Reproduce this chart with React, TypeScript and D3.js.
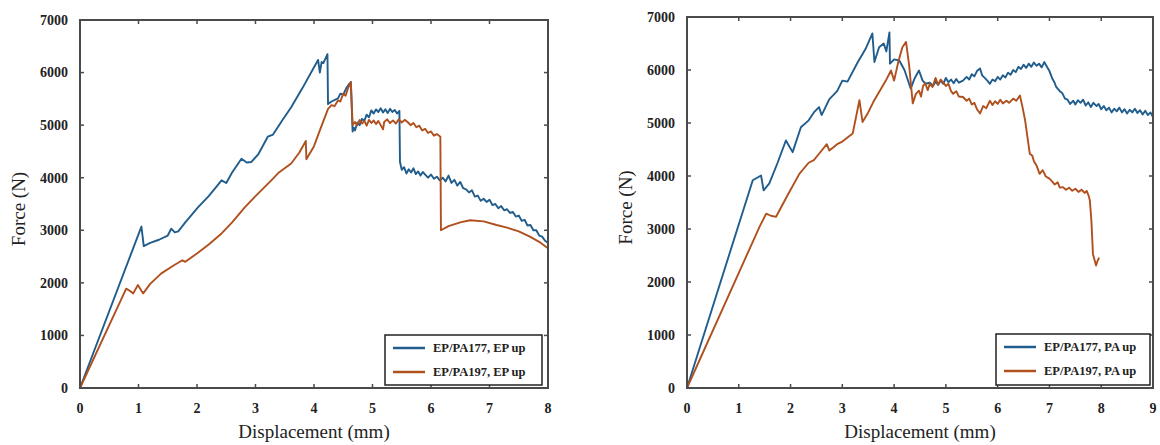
import React from "react";
import * as d3 from "d3";

// ---------- Data ----------
const yTicks = [0, 1000, 2000, 3000, 4000, 5000, 6000, 7000];
const xTicksLeft = [0, 1, 2, 3, 4, 5, 6, 7, 8];
const xTicksRight = [0, 1, 2, 3, 4, 5, 6, 7, 8, 9];

const seriesNamesLeft = ["EP/PA177, EP up", "EP/PA197, EP up"];
const seriesNamesRight = ["EP/PA177, PA up", "EP/PA197, PA up"];

// left panel, blue (EP/PA177, EP up): [displacement mm, force N]
const leftBlue: [number, number][] = [
  [0, 0], [1.05, 3070], [1.09, 2700], [1.2, 2760], [1.35, 2820], [1.5, 2900], [1.56, 3030],
  [1.62, 2960], [1.68, 2980], [1.8, 3150], [2.02, 3440], [2.2, 3650], [2.42, 3950], [2.5, 3900],
  [2.6, 4100], [2.76, 4360], [2.85, 4290], [2.93, 4300], [3.05, 4450], [3.21, 4780], [3.3, 4820],
  [3.45, 5080], [3.61, 5340], [3.8, 5700], [4.0, 6100], [4.07, 6240], [4.1, 6000], [4.13, 6200],
  [4.16, 6180], [4.23, 6350], [4.24, 5400], [4.3, 5450], [4.41, 5510], [4.45, 5600], [4.5, 5580],
  [4.55, 5700], [4.6, 5780], [4.63, 5820], [4.66, 4880], [4.68, 4950], [4.7, 4900], [4.74, 5050],
  [4.78, 5000], [4.82, 5120], [4.86, 5080], [4.9, 5200], [4.94, 5150], [4.98, 5280], [5.02, 5220],
  [5.06, 5300], [5.1, 5250], [5.14, 5320], [5.18, 5240], [5.22, 5300], [5.26, 5230], [5.3, 5310],
  [5.34, 5250], [5.38, 5290], [5.42, 5220], [5.46, 5270], [5.47, 4300], [5.5, 4150], [5.54, 4200],
  [5.58, 4080], [5.62, 4160], [5.66, 4100], [5.7, 4180], [5.74, 4070], [5.78, 4120], [5.82, 4040],
  [5.86, 4110], [5.9, 4060], [5.95, 4000], [6.0, 4060], [6.05, 3980], [6.1, 4020], [6.15, 3950],
  [6.2, 4000], [6.25, 3930], [6.3, 4040], [6.35, 3900], [6.4, 3960], [6.45, 3850], [6.5, 3920],
  [6.55, 3800], [6.6, 3780], [6.65, 3720], [6.7, 3760], [6.75, 3640], [6.8, 3660], [6.85, 3560],
  [6.9, 3600], [6.95, 3540], [7.0, 3580], [7.05, 3480], [7.1, 3500], [7.15, 3420], [7.2, 3460],
  [7.25, 3380], [7.3, 3400], [7.35, 3330], [7.4, 3350], [7.45, 3260], [7.5, 3280], [7.55, 3180],
  [7.6, 3200], [7.65, 3090], [7.7, 3100], [7.75, 3000], [7.8, 3000], [7.85, 2900], [7.9, 2880],
  [7.95, 2800], [8.0, 2760],
];

// left panel, orange (EP/PA197, EP up)
const leftOrange: [number, number][] = [
  [0, 0], [0.79, 1890], [0.85, 1850], [0.91, 1800], [0.99, 1960], [1.05, 1850], [1.08, 1800],
  [1.2, 1980], [1.39, 2180], [1.6, 2330], [1.75, 2430], [1.8, 2400], [2.0, 2560], [2.2, 2730],
  [2.42, 2940], [2.6, 3150], [2.82, 3440], [3.0, 3650], [3.27, 3950], [3.4, 4100], [3.61, 4270],
  [3.75, 4480], [3.86, 4700], [3.87, 4350], [4.0, 4600], [4.1, 4900], [4.24, 5310], [4.3, 5380],
  [4.35, 5360], [4.41, 5470], [4.45, 5450], [4.5, 5600], [4.54, 5560], [4.58, 5700], [4.63, 5820],
  [4.66, 5000], [4.7, 5060], [4.74, 5000], [4.78, 5100], [4.82, 5030], [4.86, 5080], [4.9, 4990],
  [4.94, 5100], [4.98, 5040], [5.02, 5090], [5.06, 5020], [5.1, 5080], [5.14, 5000], [5.18, 4920],
  [5.2, 5060], [5.25, 5110], [5.3, 5040], [5.35, 5090], [5.4, 5030], [5.45, 5110], [5.5, 5050],
  [5.55, 5100], [5.6, 5060], [5.65, 5000], [5.7, 5040], [5.75, 4960], [5.8, 4990], [5.85, 4900],
  [5.9, 4930], [5.95, 4850], [6.0, 4880], [6.05, 4800], [6.1, 4830], [6.16, 4780], [6.17, 3000],
  [6.3, 3080], [6.5, 3150], [6.67, 3190], [6.9, 3170], [7.12, 3100], [7.3, 3050], [7.5, 2980],
  [7.69, 2880], [7.85, 2780], [8.0, 2660],
];

// right panel, blue (EP/PA177, PA up)
const rightBlue: [number, number][] = [
  [0, 0], [1.27, 3920], [1.43, 4010], [1.48, 3730], [1.59, 3860], [1.75, 4250], [1.91, 4670],
  [2.04, 4450], [2.2, 4920], [2.35, 5050], [2.45, 5200], [2.55, 5300], [2.6, 5150], [2.75, 5450],
  [2.9, 5600], [3.0, 5800], [3.1, 5780], [3.3, 6150], [3.45, 6400], [3.58, 6690], [3.62, 6150],
  [3.71, 6430], [3.8, 6500], [3.85, 6350], [3.91, 6710], [3.92, 6120], [4.0, 6200], [4.1, 6180],
  [4.2, 6000], [4.32, 5650], [4.4, 5850], [4.48, 5990], [4.55, 5800], [4.61, 5740], [4.69, 5760],
  [4.75, 5700], [4.8, 5780], [4.85, 5720], [4.9, 5800], [4.95, 5740], [5.0, 5850], [5.05, 5770],
  [5.1, 5820], [5.15, 5750], [5.2, 5830], [5.25, 5760], [5.33, 5800], [5.4, 5870], [5.45, 5820],
  [5.5, 5920], [5.55, 5880], [5.6, 5980], [5.66, 6030], [5.7, 5900], [5.75, 5850], [5.8, 5800],
  [5.85, 5740], [5.9, 5820], [5.95, 5790], [6.0, 5870], [6.05, 5820], [6.1, 5900], [6.15, 5860],
  [6.2, 5950], [6.25, 5910], [6.3, 6000], [6.35, 5960], [6.4, 6060], [6.45, 6020], [6.5, 6100],
  [6.55, 6040], [6.6, 6120], [6.65, 6060], [6.7, 6140], [6.75, 6080], [6.8, 6120], [6.85, 6050],
  [6.9, 6150], [6.94, 6080], [7.0, 5980], [7.05, 5850], [7.1, 5760], [7.13, 5680], [7.2, 5600],
  [7.25, 5560], [7.3, 5460], [7.35, 5440], [7.4, 5360], [7.46, 5420], [7.5, 5350], [7.55, 5430],
  [7.6, 5380], [7.65, 5440], [7.7, 5330], [7.75, 5390], [7.8, 5300], [7.85, 5380], [7.91, 5320],
  [7.95, 5360], [8.0, 5260], [8.05, 5320], [8.1, 5240], [8.15, 5290], [8.2, 5200], [8.25, 5270],
  [8.3, 5220], [8.35, 5290], [8.4, 5200], [8.45, 5260], [8.5, 5180], [8.55, 5250], [8.6, 5200],
  [8.65, 5270], [8.7, 5190], [8.75, 5240], [8.8, 5160], [8.85, 5230], [8.9, 5150], [8.95, 5200],
  [9.0, 5110],
];

// right panel, orange (EP/PA197, PA up)
const rightOrange: [number, number][] = [
  [0, 0], [1.4, 3040], [1.53, 3290], [1.62, 3250], [1.72, 3230], [1.95, 3650], [2.17, 4040],
  [2.35, 4250], [2.45, 4300], [2.55, 4420], [2.7, 4600], [2.75, 4480], [2.9, 4600], [3.0, 4650],
  [3.2, 4800], [3.33, 5430], [3.39, 5020], [3.5, 5200], [3.6, 5400], [3.75, 5650], [3.84, 5800],
  [3.94, 5990], [4.0, 5800], [4.08, 6150], [4.16, 6430], [4.23, 6530], [4.29, 6090], [4.36, 5370],
  [4.42, 5550], [4.48, 5610], [4.52, 5500], [4.56, 5700], [4.6, 5750], [4.65, 5620], [4.69, 5740],
  [4.74, 5680], [4.8, 5850], [4.85, 5720], [4.9, 5820], [4.95, 5760], [5.0, 5700], [5.05, 5740],
  [5.1, 5600], [5.14, 5550], [5.2, 5600], [5.25, 5500], [5.33, 5490], [5.4, 5420], [5.45, 5460],
  [5.5, 5350], [5.55, 5380], [5.6, 5260], [5.66, 5180], [5.72, 5320], [5.78, 5280], [5.85, 5420],
  [5.9, 5340], [5.95, 5410], [6.0, 5360], [6.05, 5440], [6.1, 5370], [6.17, 5420], [6.22, 5380],
  [6.3, 5460], [6.36, 5420], [6.43, 5520], [6.48, 5300], [6.53, 5050], [6.58, 4700], [6.62, 4420],
  [6.67, 4380], [6.7, 4280], [6.75, 4200], [6.81, 4040], [6.87, 4110], [6.93, 3990], [7.0, 3950],
  [7.05, 3900], [7.1, 3840], [7.16, 3880], [7.2, 3780], [7.26, 3790], [7.32, 3740], [7.38, 3780],
  [7.44, 3720], [7.5, 3760], [7.56, 3700], [7.62, 3740], [7.68, 3680], [7.72, 3720], [7.76, 3620],
  [7.78, 3540], [7.81, 3160], [7.84, 2530], [7.87, 2420], [7.9, 2310], [7.93, 2400], [7.96, 2460],
];

const BLUE = "#215d8c";
const ORANGE = "#b0501e";
const FRAME = "#4a4a4a";
const SERIF = "'Liberation Serif', 'DejaVu Serif', serif";

type PanelProps = {
  left: number; right: number; top: number; bottom: number;
  xMax: number; xTicks: number[];
  series: [number, number][][];
  names: string[];
  legend: { x0: number; x1: number; y0: number; y1: number };
};

function Panel({ left, right, top, bottom, xMax, xTicks, series, names, legend }: PanelProps) {
  const x = d3.scaleLinear().domain([0, xMax]).range([left, right]);
  const y = d3.scaleLinear().domain([0, 7000]).range([bottom, top]);
  const line = d3.line<[number, number]>().x((d) => x(d[0])).y((d) => y(d[1]));
  const colors = [BLUE, ORANGE];
  const tl = 4;
  return (
    <g>
      {series.map((s, i) => (
        <path key={i} d={line(s) || ""} fill="none" stroke={colors[i]} strokeWidth={1.9} strokeLinejoin="round" />
      ))}
      {xTicks.map((t) => (
        <g key={"x" + t}>
          <line x1={x(t)} x2={x(t)} y1={bottom} y2={bottom - tl} stroke={FRAME} strokeWidth={1.5} />
          <line x1={x(t)} x2={x(t)} y1={top} y2={top + tl} stroke={FRAME} strokeWidth={1.5} />
          <text x={x(t)} y={bottom + 25} textAnchor="middle" fontFamily={SERIF} fontWeight="bold" fontSize={14} fill="#222">{t}</text>
        </g>
      ))}
      {yTicks.map((t) => (
        <g key={"y" + t}>
          <line x1={left} x2={left + tl} y1={y(t)} y2={y(t)} stroke={FRAME} strokeWidth={1.5} />
          <line x1={right} x2={right - tl} y1={y(t)} y2={y(t)} stroke={FRAME} strokeWidth={1.5} />
          <text x={left - 12} y={y(t)} dy="0.35em" textAnchor="end" fontFamily={SERIF} fontWeight="bold" fontSize={14} fill="#222">{t}</text>
        </g>
      ))}
      <rect x={left} y={top} width={right - left} height={bottom - top} fill="none" stroke={FRAME} strokeWidth={2} />
      <text x={(left + right) / 2} y={bottom + 50} textAnchor="middle" fontFamily={SERIF} fontSize={19} fill="#222">Displacement (mm)</text>
      <text transform={`translate(${left - 55},${(top + bottom) / 2 + 5}) rotate(-90)`} textAnchor="middle" fontFamily={SERIF} fontSize={19} fill="#222">Force (N)</text>
      <rect x={legend.x0} y={legend.y0} width={legend.x1 - legend.x0} height={legend.y1 - legend.y0} fill="#fff" stroke="#222" strokeWidth={1.5} />
      {names.map((n, i) => {
        const ly = legend.y0 + 13 + i * 24;
        return (
          <g key={n}>
            <line x1={legend.x0 + 8} x2={legend.x0 + 40} y1={ly} y2={ly} stroke={colors[i]} strokeWidth={2.5} />
            <text x={legend.x0 + 48} y={ly} dy="0.35em" fontFamily={SERIF} fontWeight="bold" fontSize={12.5} fill="#222">{n}</text>
          </g>
        );
      })}
    </g>
  );
}

export default function App() {
  return (
    <svg width={1160} height={445} style={{ position: "absolute", left: 0, top: 0, background: "#fff" }}>
      <rect x={0} y={0} width={1160} height={445} fill="#fff" />
      <Panel left={80} right={548} top={20} bottom={388} xMax={8} xTicks={xTicksLeft}
        series={[leftBlue, leftOrange]} names={seriesNamesLeft}
        legend={{ x0: 385, x1: 542, y0: 335, y1: 385 }} />
      <Panel left={687} right={1153} top={17} bottom={388} xMax={9} xTicks={xTicksRight}
        series={[rightBlue, rightOrange]} names={seriesNamesRight}
        legend={{ x0: 996, x1: 1150, y0: 334, y1: 385 }} />
    </svg>
  );
}
